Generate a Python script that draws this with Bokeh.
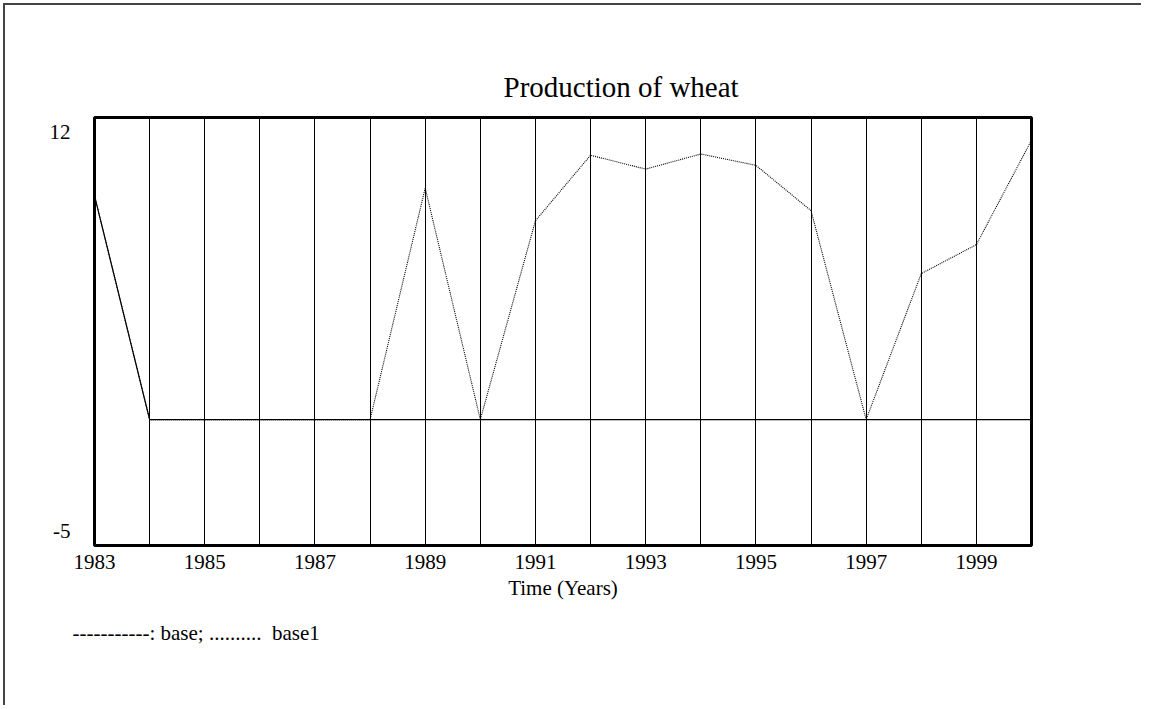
from bokeh.plotting import figure
from bokeh.models import Range1d, FixedTicker, Title
from bokeh.embed import file_html
from bokeh.resources import INLINE

# ---- data ----
years = [1983, 1984, 1985, 1986, 1987, 1988, 1989, 1990, 1991,
         1992, 1993, 1994, 1995, 1996, 1997, 1998, 1999, 2000]
base = [8.9, 0, 0, 0, 0, 0, 0, 0, 0, 0, 0, 0, 0, 0, 0, 0, 0, 0]
base1 = [8.9, 0, 0, 0, 0, 0, 9.2, 0, 7.9, 10.5, 9.95, 10.55, 10.1, 8.3, 0, 5.8, 6.95, 11.1]
x_tick_years = [1983, 1985, 1987, 1989, 1991, 1993, 1995, 1997, 1999]
y_ticks = [-5, 12]
y_tick_labels = {-5: "-5\n", 12: "\n12"}
title_text = "Production of wheat"
x_label = "Time (Years)"
legend_text = "-----------: base; ..........\u00a0 base1"

FONT = "Liberation Serif"

p = figure(width=1138, height=702, output_backend="svg", toolbar_location=None,
           x_range=Range1d(years[0], years[-1]), y_range=Range1d(y_ticks[0], y_ticks[1]),
           min_border_left=89, min_border_top=112, min_border_right=112, min_border_bottom=162)

p.styles = {"border-left": "2px solid #444", "border-top": "2px solid #444",
            "border-right": "none", "border-bottom": "none",
            "margin-left": "3px", "margin-top": "3px"}

p.background_fill_color = "white"
p.border_fill_color = "white"
p.outline_line_color = "black"
p.outline_line_width = 3

# title
p.title.text = title_text
p.title.text_font = FONT
p.title.text_font_size = "29px"
p.title.text_font_style = "normal"
p.title.text_color = "black"
p.title.align = "left"
p.title.offset = 409
p.title.standoff = 30

# x axis
p.xaxis.ticker = FixedTicker(ticks=x_tick_years)
p.xaxis.axis_line_color = None
p.xaxis.major_tick_line_color = None
p.xaxis.minor_tick_line_color = None
p.xaxis.major_label_text_font = FONT
p.xaxis.major_label_text_font_size = "21px"
p.xaxis.major_label_text_color = "black"
p.xaxis.major_label_standoff = 3
p.xaxis.axis_label = x_label
p.xaxis.axis_label_text_font = FONT
p.xaxis.axis_label_text_font_size = "21px"
p.xaxis.axis_label_text_font_style = "normal"
p.xaxis.axis_label_text_color = "black"
p.xaxis.axis_label_standoff = 4

# y axis
p.yaxis.ticker = FixedTicker(ticks=y_ticks)
p.yaxis.major_label_overrides = y_tick_labels
p.yaxis.axis_line_color = None
p.yaxis.major_tick_line_color = None
p.yaxis.minor_tick_line_color = None
p.yaxis.major_label_text_font = FONT
p.yaxis.major_label_text_font_size = "21px"
p.yaxis.major_label_text_color = "black"
p.yaxis.major_label_standoff = 18

# grids
p.xgrid.ticker = FixedTicker(ticks=years)
p.xgrid.grid_line_color = "black"
p.xgrid.grid_line_width = 1
p.ygrid.grid_line_color = None

# series
p.line(years, base, line_color="black", line_width=1.2)
p.line(years, base1, line_color="black", line_width=1.1, line_dash="1 1")

# legend text below the axis
legend = Title(text=legend_text, align="left", offset=-22, standoff=33,
               text_font=FONT, text_font_size="21px", text_font_style="normal",
               text_color="black")
p.add_layout(legend, "below")

open("out.html", "w").write(file_html(p, INLINE))
